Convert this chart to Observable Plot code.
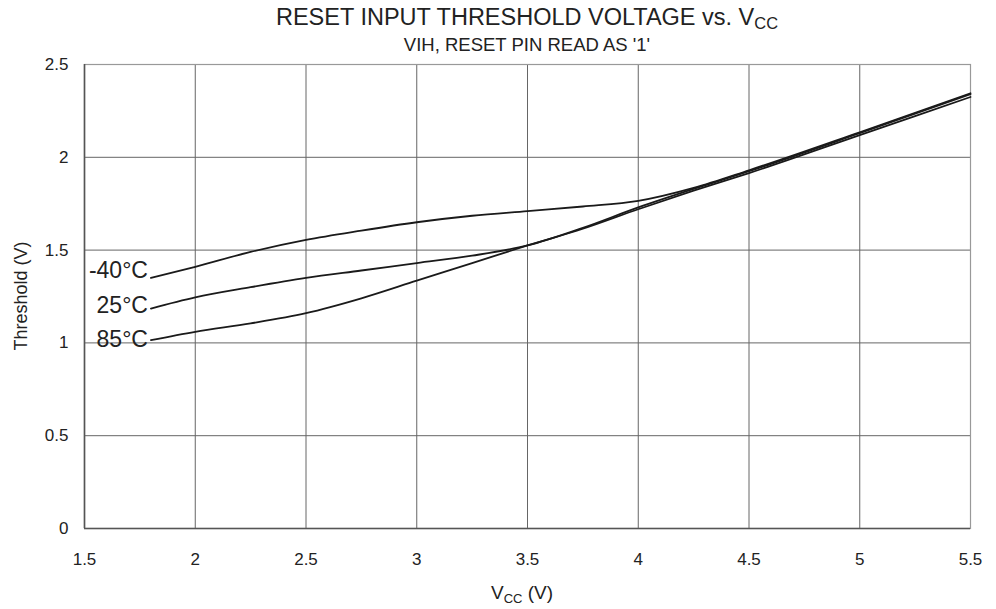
<!DOCTYPE html>
<html>
<head>
<meta charset="utf-8">
<script src="https://cdn.jsdelivr.net/npm/d3@7"></script>
<script src="https://cdn.jsdelivr.net/npm/@observablehq/plot@0.6"></script>
<style>
  body { margin: 0; background: #fff; }
  #wrap { position: relative; width: 996px; height: 609px; font-family: "Liberation Sans", Arial, sans-serif; color: #222; }
  .ttl { position: absolute; left: 84px; width: 886px; text-align: center; white-space: nowrap; }
  #t1 { top: 4px; font-size: 23.5px; }
  #t2 { top: 34px; font-size: 18.5px; }
  sub { font-size: 0.7em; vertical-align: -0.25em; line-height: 0; }
</style>
</head>
<body>
<div id="wrap">
  <div class="ttl" id="t1">RESET INPUT THRESHOLD VOLTAGE vs. V<sub>CC</sub></div>
  <div class="ttl" id="t2">VIH, RESET PIN READ AS '1'</div>
</div>
<script>
const vcc   = [1.8, 2, 2.25, 2.5, 2.75, 3, 3.25, 3.5, 3.75, 4, 4.25, 4.5, 5, 5.5];
const tM40  = [1.35, 1.41, 1.49, 1.555, 1.605, 1.65, 1.685, 1.71, 1.735, 1.765, 1.835, 1.93, 2.135, 2.345];
const t25   = [1.185, 1.245, 1.30, 1.35, 1.39, 1.43, 1.47, 1.525, 1.62, 1.73, 1.83, 1.925, 2.13, 2.34];
const t85   = [1.015, 1.06, 1.105, 1.16, 1.24, 1.335, 1.43, 1.525, 1.615, 1.72, 1.82, 1.915, 2.12, 2.325];
const seriesNames = ["-40°C", "25°C", "85°C"];
const seriesVals = [tM40, t25, t85];
const xTicks = [1.5, 2, 2.5, 3, 3.5, 4, 4.5, 5, 5.5];
const yTicks = [0, 0.5, 1, 1.5, 2, 2.5];

const rows = seriesNames.flatMap((s, i) => vcc.map((v, j) => ({series: s, vcc: v, th: seriesVals[i][j]})));
const starts = seriesNames.map((s, i) => ({series: s, vcc: vcc[0], th: seriesVals[i][0]}));
const labelDy = [-7, -3, 0];

const chart = Plot.plot({
  width: 996,
  height: 609,
  marginTop: 64,
  marginBottom: 81,
  marginLeft: 84,
  marginRight: 26,
  style: { fontFamily: "Liberation Sans, Arial, sans-serif", fontSize: "17px", color: "#222", background: "#fff" },
  x: { domain: [1.5, 5.5], ticks: xTicks, tickFormat: d => String(d), label: null },
  y: { domain: [0, 2.5], ticks: yTicks, tickFormat: d => String(d), label: null },
  marks: [
    Plot.gridX(xTicks, { stroke: "#666", strokeOpacity: 1, strokeWidth: 1 }),
    Plot.gridY(yTicks, { stroke: "#666", strokeOpacity: 1, strokeWidth: 1 }),
    Plot.frame({ stroke: "#999", strokeWidth: 1.2 }),
    Plot.ruleY([0], { stroke: "#555", strokeWidth: 1.6 }),
    Plot.ruleX([1.5], { stroke: "#555", strokeWidth: 1.6 }),
    Plot.axisX({ ticks: xTicks, tickSize: 0, tickPadding: 24, tickFormat: d => String(d), label: null }),
    Plot.axisY({ ticks: yTicks, tickSize: 0, tickPadding: 16, tickFormat: d => String(d), label: null }),
    Plot.line(rows, { x: "vcc", y: "th", z: "series", curve: "monotone-x", stroke: "#1a1a1a", strokeWidth: 1.8 }),
    ...starts.map((d, i) => Plot.text([d], { x: "vcc", y: "th", text: "series", textAnchor: "end", dx: -3, dy: labelDy[i], fontSize: 23, fill: "#222" }))
  ]
});

document.getElementById("wrap").appendChild(chart);
const svg = d3.select(chart);
svg.style("position", "absolute").style("left", "0px").style("top", "0px");
svg.style("z-index", "0");
d3.selectAll(".ttl").style("z-index", "1");

// x axis label with subscript
const xl = svg.append("text")
  .attr("x", 522).attr("y", 599)
  .attr("text-anchor", "middle")
  .attr("font-size", 19)
  .attr("fill", "#222");
xl.append("tspan").text("V");
xl.append("tspan").attr("font-size", 13).attr("dy", 4).text("CC");
xl.append("tspan").attr("dy", -4).text(" (V)");

// y axis label
svg.append("text")
  .attr("transform", "translate(27,296) rotate(-90)")
  .attr("text-anchor", "middle")
  .attr("font-size", 18)
  .attr("fill", "#222")
  .text("Threshold (V)");
</script>
</body>
</html>
